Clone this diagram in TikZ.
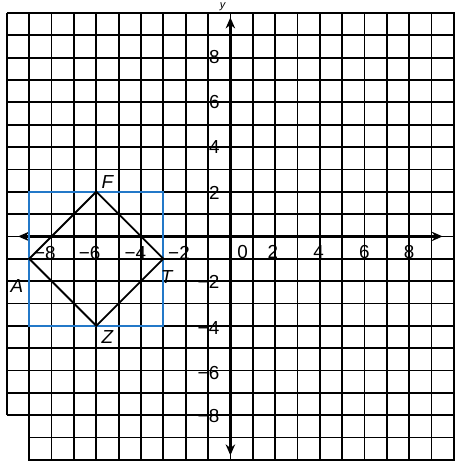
\documentclass[tikz,border=0pt]{standalone}
\usepackage{fontspec}
\setmainfont{Liberation Sans}
\usepackage{tikz}
\usetikzlibrary{arrows.meta,positioning}
\definecolor{squareblue}{RGB}{35, 120, 200}

\begin{document}
\begin{tikzpicture}[
    scale=0.5,
    gridline/.style={line width=1.1pt, black},
    axis/.style={line width=1.5pt, {Stealth[length=7pt,width=6pt]}-{Stealth[length=7pt,width=6pt]}},
    diamondline/.style={line width=1.2pt, black, line join=miter},
    box/.style={line width=1.4pt, squareblue},
    tick/.style={font=\fontsize{12}{14}\selectfont, inner sep=0pt},
    vertex/.style={font=\fontsize{12}{14}\selectfont\itshape, inner sep=0pt}
]
    \useasboundingbox (-10.31,-10.05) rectangle (10.04,10.58);

    % Graph paper
    \draw[gridline] (-9,-10.2) grid (10.2,10);
    \draw[gridline] (-10,-8) grid (-9,10);

    % Axes
    \coordinate (xl) at (-9.5,0);
    \coordinate (xr) at (9.5,0);
    \coordinate (yb) at (0,-9.8);
    \coordinate (yt) at (0,9.8);
    \draw[axis] (xl) -- (xr);
    \draw[axis] (yb) -- (yt);
    \node[tick, font=\fontsize{7}{8}\selectfont\itshape, anchor=base] (ylabel) at (-0.35,10.2) {y};

    % Tick labels on the x axis
    \node[tick] (xm8) at (-8.3,-0.75) {−8};
    \node[tick] (xm6) at (-6.3,-0.75) {−6};
    \node[tick] (xm4) at (-4.25,-0.75) {−4};
    \node[tick] (xm2) at (-2.3,-0.75) {−2};
    \node[tick] (x0) at (0.55,-0.7) {0};
    \node[tick] (x2) at (1.9,-0.7) {2};
    \node[tick] (x4) at (3.95,-0.7) {4};
    \node[tick] (x6) at (6,-0.7) {6};
    \node[tick] (x8) at (8,-0.7) {8};

    % Tick labels on the y axis
    \node[tick] (y8) at (-0.72,8.05) {8};
    \node[tick] (y6) at (-0.72,6) {6};
    \node[tick] (y4) at (-0.72,4) {4};
    \node[tick] (y2) at (-0.72,1.95) {2};
    \node[tick] (ym2) at (-0.98,-2.05) {−2};
    \node[tick] (ym4) at (-0.98,-4.1) {−4};
    \node[tick] (ym6) at (-0.98,-6.1) {−6};
    \node[tick] (ym8) at (-0.98,-8.05) {−8};

    % Blue bounding square
    \draw[box] (-9,-4) rectangle (-3,2);

    % Square AFTZ
    \coordinate (A) at (-9,-1);
    \coordinate (F) at (-6,2);
    \coordinate (T) at (-3,-1);
    \coordinate (Z) at (-6,-4);
    \draw[diamondline] (A) -- (F) -- (T) -- (Z) -- cycle;

    % Vertex labels
    \node[vertex] (labelA) at (-9.55,-2.2) {A};
    \node[vertex] (labelF) at (-5.5,2.45) {F};
    \node[vertex] (labelT) at (-2.85,-1.8) {T};
    \node[vertex] (labelZ) at (-5.5,-4.5) {Z};
\end{tikzpicture}
\end{document}
